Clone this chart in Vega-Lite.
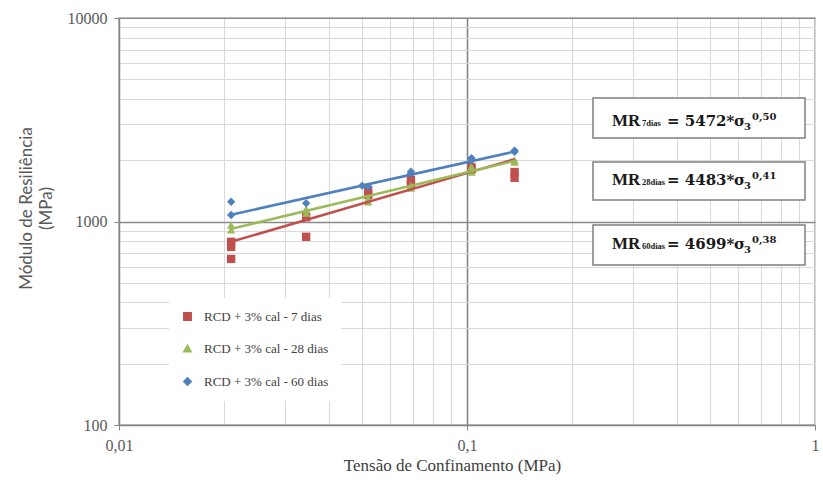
{
  "$schema": "https://vega.github.io/schema/vega-lite/v6.json",
  "width": 696,
  "height": 407,
  "autosize": {"type": "none"},
  "padding": {"left": 119, "top": 18, "right": 8, "bottom": 64},
  "background": "white",
  "config": {
    "view": {"stroke": "#a6a6a6", "strokeWidth": 1.5}
  },
  "datasets": {
    "pts": [
      {"s": "RCD + 3% cal - 7 dias", "x": 0.021, "y": 795},
      {"s": "RCD + 3% cal - 7 dias", "x": 0.021, "y": 750},
      {"s": "RCD + 3% cal - 7 dias", "x": 0.021, "y": 655},
      {"s": "RCD + 3% cal - 7 dias", "x": 0.0345, "y": 1050},
      {"s": "RCD + 3% cal - 7 dias", "x": 0.0345, "y": 841},
      {"s": "RCD + 3% cal - 7 dias", "x": 0.052, "y": 1430},
      {"s": "RCD + 3% cal - 7 dias", "x": 0.052, "y": 1350},
      {"s": "RCD + 3% cal - 7 dias", "x": 0.069, "y": 1600},
      {"s": "RCD + 3% cal - 7 dias", "x": 0.069, "y": 1530},
      {"s": "RCD + 3% cal - 7 dias", "x": 0.103, "y": 1800},
      {"s": "RCD + 3% cal - 7 dias", "x": 0.103, "y": 1850},
      {"s": "RCD + 3% cal - 7 dias", "x": 0.137, "y": 1750},
      {"s": "RCD + 3% cal - 7 dias", "x": 0.137, "y": 1640},
      {"s": "RCD + 3% cal - 28 dias", "x": 0.021, "y": 960},
      {"s": "RCD + 3% cal - 28 dias", "x": 0.021, "y": 910},
      {"s": "RCD + 3% cal - 28 dias", "x": 0.0345, "y": 1100},
      {"s": "RCD + 3% cal - 28 dias", "x": 0.0345, "y": 1150},
      {"s": "RCD + 3% cal - 28 dias", "x": 0.052, "y": 1250},
      {"s": "RCD + 3% cal - 28 dias", "x": 0.052, "y": 1300},
      {"s": "RCD + 3% cal - 28 dias", "x": 0.069, "y": 1460},
      {"s": "RCD + 3% cal - 28 dias", "x": 0.069, "y": 1500},
      {"s": "RCD + 3% cal - 28 dias", "x": 0.103, "y": 1750},
      {"s": "RCD + 3% cal - 28 dias", "x": 0.103, "y": 1860},
      {"s": "RCD + 3% cal - 28 dias", "x": 0.137, "y": 1960},
      {"s": "RCD + 3% cal - 28 dias", "x": 0.137, "y": 2000},
      {"s": "RCD + 3% cal - 60 dias", "x": 0.021, "y": 1250},
      {"s": "RCD + 3% cal - 60 dias", "x": 0.021, "y": 1076},
      {"s": "RCD + 3% cal - 60 dias", "x": 0.0345, "y": 1230},
      {"s": "RCD + 3% cal - 60 dias", "x": 0.05, "y": 1500},
      {"s": "RCD + 3% cal - 60 dias", "x": 0.052, "y": 1480},
      {"s": "RCD + 3% cal - 60 dias", "x": 0.069, "y": 1757},
      {"s": "RCD + 3% cal - 60 dias", "x": 0.069, "y": 1720},
      {"s": "RCD + 3% cal - 60 dias", "x": 0.103, "y": 2050},
      {"s": "RCD + 3% cal - 60 dias", "x": 0.103, "y": 2000},
      {"s": "RCD + 3% cal - 60 dias", "x": 0.137, "y": 2200},
      {"s": "RCD + 3% cal - 60 dias", "x": 0.137, "y": 2230}
    ],
    "fit": [
      {"s": "RCD + 3% cal - 7 dias", "x": 0.021, "y": 795},
      {"s": "RCD + 3% cal - 7 dias", "x": 0.137, "y": 2025},
      {"s": "RCD + 3% cal - 28 dias", "x": 0.021, "y": 920},
      {"s": "RCD + 3% cal - 28 dias", "x": 0.137, "y": 1985},
      {"s": "RCD + 3% cal - 60 dias", "x": 0.021, "y": 1080},
      {"s": "RCD + 3% cal - 60 dias", "x": 0.137, "y": 2205}
    ],
    "eqs": [
      {"sub": "7dias", "rhs": "= 5472*", "expo": "0,50", "top": 4045, "bottom": 2572, "base": 2930},
      {"sub": "28dias", "rhs": "= 4483*", "expo": "0,41", "top": 1961, "bottom": 1276, "base": 1511},
      {"sub": "60dias", "rhs": "= 4699*", "expo": "0,38", "top": 961, "bottom": 611, "base": 729}
    ]
  },
  "layer": [
    {
      "data": {"name": "pts"},
      "mark": {"type": "point", "filled": true, "opacity": 1},
      "encoding": {
        "x": {
          "field": "x", "type": "quantitative",
          "scale": {"type": "log", "domain": [0.01, 1], "nice": false},
          "axis": {
            "title": "Tensão de Confinamento (MPa)",
            "values": [0.01, 0.02, 0.03, 0.04, 0.05, 0.06, 0.07, 0.08, 0.09, 0.1, 0.2, 0.3, 0.4, 0.5, 0.6, 0.7, 0.8, 0.9, 1],
            "labelExpr": "datum.value == 0.01 ? '0,01' : datum.value == 0.1 ? '0,1' : datum.value == 1 ? '1' : ''",
            "labelOverlap": false, "labelFlush": false, "labelBound": false,
            "labelFont": "Liberation Serif", "labelFontSize": 16, "labelColor": "#595959", "labelPadding": 7,
            "tickSize": 5, "tickColor": "#868686",
            "tickOpacity": {"condition": {"test": "datum.value == 0.01 || datum.value == 0.1 || datum.value == 1", "value": 1}, "value": 0},
            "domainColor": "#868686", "domainWidth": 1.5,
            "grid": true,
            "gridColor": {"condition": {"test": "datum.value == 0.1", "value": "#7f7f7f"}, "value": "#d9d9d9"},
            "gridWidth": {"condition": {"test": "datum.value == 0.1", "value": 1.5}, "value": 1},
            "titleFont": "Liberation Serif", "titleFontSize": 17, "titleFontWeight": "normal", "titleColor": "#404040",
            "titleX": 333, "titleY": 40, "titleBaseline": "middle", "titleAlign": "center"
          }
        },
        "y": {
          "field": "y", "type": "quantitative",
          "scale": {"type": "log", "domain": [100, 10000], "nice": false},
          "axis": {
            "title": ["Módulo de Resiliência", "(MPa)"],
            "values": [100, 200, 300, 400, 500, 600, 700, 800, 900, 1000, 2000, 3000, 4000, 5000, 6000, 7000, 8000, 9000, 10000],
            "labelExpr": "datum.value == 100 ? '100' : datum.value == 1000 ? '1000' : datum.value == 10000 ? '10000' : ''",
            "labelOverlap": false, "labelFlush": false, "labelBound": false,
            "labelFont": "Liberation Serif", "labelFontSize": 16, "labelColor": "#595959", "labelPadding": 7,
            "tickSize": 5, "tickColor": "#868686",
            "tickOpacity": {"condition": {"test": "datum.value == 100 || datum.value == 1000 || datum.value == 10000", "value": 1}, "value": 0},
            "domainColor": "#868686", "domainWidth": 1.5,
            "grid": true,
            "gridColor": {"condition": {"test": "datum.value == 1000 || datum.value == 10000", "value": "#8a8a8a"}, "value": "#d9d9d9"},
            "gridWidth": {"condition": {"test": "datum.value == 1000", "value": 1.5}, "value": 1},
            "titleFont": "Lato", "titleFontSize": 17, "titleFontWeight": "normal", "titleColor": "#595959",
            "titleAngle": 270, "titleX": -101, "titleY": 190, "titleBaseline": "top", "titleAlign": "center", "titleLineHeight": 20
          }
        },
        "color": {
          "field": "s", "type": "nominal",
          "scale": {"domain": ["RCD + 3% cal - 7 dias", "RCD + 3% cal - 28 dias", "RCD + 3% cal - 60 dias"], "range": ["#C0504D", "#9BBB59", "#4F81BD"]},
          "legend": {
            "orient": "none", "legendX": 50, "legendY": 280, "title": null,
            "fillColor": "white", "padding": 12,
            "labelFont": "Liberation Serif", "labelFontSize": 13, "labelColor": "#404040",
            "rowPadding": 18, "labelOffset": 10, "symbolSize": 55
          }
        },
        "shape": {
          "field": "s", "type": "nominal",
          "scale": {"domain": ["RCD + 3% cal - 7 dias", "RCD + 3% cal - 28 dias", "RCD + 3% cal - 60 dias"], "range": ["square", "triangle-up", "diamond"]}
        },
        "size": {"value": 70}
      }
    },
    {
      "data": {"name": "fit"},
      "mark": {"type": "line", "strokeWidth": 2.5},
      "encoding": {
        "x": {"field": "x", "type": "quantitative"},
        "y": {"field": "y", "type": "quantitative"},
        "color": {"field": "s", "type": "nominal", "legend": null}
      }
    },
    {
      "data": {"name": "eqs"},
      "mark": {"type": "rect", "fill": "white", "stroke": "#7f7f7f", "strokeWidth": 1.5},
      "encoding": {
        "x": {"datum": 0.2302, "type": "quantitative"},
        "x2": {"datum": 0.936},
        "y": {"field": "top", "type": "quantitative"},
        "y2": {"field": "bottom"}
      }
    },
    {
      "data": {"name": "eqs"},
      "mark": {"type": "text", "align": "left", "baseline": "alphabetic", "dx": 19, "font": "Liberation Serif", "fontWeight": "bold", "fontSize": 17, "color": "#1a1a1a"},
      "encoding": {
        "x": {"datum": 0.2302, "type": "quantitative"},
        "y": {"field": "base", "type": "quantitative"},
        "text": {"value": "MR"}
      }
    },
    {
      "data": {"name": "eqs"},
      "mark": {"type": "text", "align": "left", "baseline": "alphabetic", "dx": 49, "font": "Liberation Serif", "fontWeight": "bold", "fontSize": 8.5, "color": "#1a1a1a"},
      "encoding": {
        "x": {"datum": 0.2302, "type": "quantitative"},
        "y": {"field": "base", "type": "quantitative"},
        "text": {"field": "sub"}
      }
    },
    {
      "data": {"name": "eqs"},
      "mark": {"type": "text", "align": "left", "baseline": "alphabetic", "dx": 74, "font": "DejaVu Serif", "fontWeight": "bold", "fontSize": 15, "color": "#1a1a1a"},
      "encoding": {
        "x": {"datum": 0.2302, "type": "quantitative"},
        "y": {"field": "base", "type": "quantitative"},
        "text": {"field": "rhs"}
      }
    },
    {
      "data": {"name": "eqs"},
      "mark": {"type": "text", "align": "left", "baseline": "alphabetic", "dx": 141, "font": "DejaVu Serif", "fontWeight": "bold", "fontSize": 15, "color": "#1a1a1a"},
      "encoding": {
        "x": {"datum": 0.2302, "type": "quantitative"},
        "y": {"field": "base", "type": "quantitative"},
        "text": {"value": "σ"}
      }
    },
    {
      "data": {"name": "eqs"},
      "mark": {"type": "text", "align": "left", "baseline": "alphabetic", "dx": 151, "dy": 4, "font": "DejaVu Serif", "fontWeight": "bold", "fontSize": 10, "color": "#1a1a1a"},
      "encoding": {
        "x": {"datum": 0.2302, "type": "quantitative"},
        "y": {"field": "base", "type": "quantitative"},
        "text": {"value": "3"}
      }
    },
    {
      "data": {"name": "eqs"},
      "mark": {"type": "text", "align": "left", "baseline": "alphabetic", "dx": 159, "dy": -6, "font": "DejaVu Serif", "fontWeight": "bold", "fontSize": 10, "color": "#1a1a1a"},
      "encoding": {
        "x": {"datum": 0.2302, "type": "quantitative"},
        "y": {"field": "base", "type": "quantitative"},
        "text": {"field": "expo"}
      }
    }
  ]
}
